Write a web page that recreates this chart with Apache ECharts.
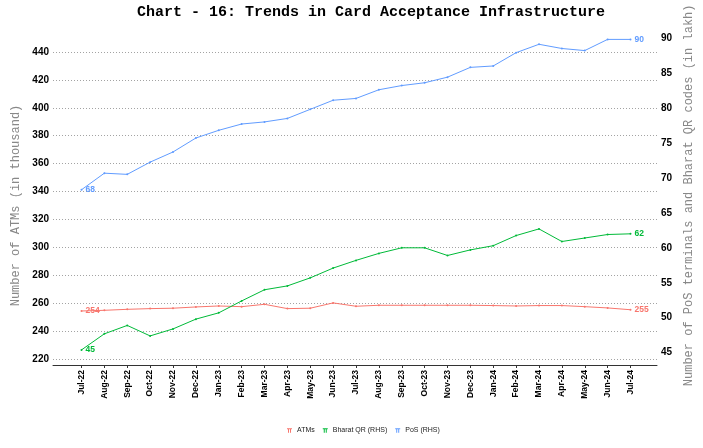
<!DOCTYPE html>
<html>
<head>
<meta charset="utf-8">
<script src="https://cdn.jsdelivr.net/npm/echarts@6/dist/echarts.min.js"></script>
<style>
html,body{margin:0;padding:0;background:#fff;}
#chart{width:703px;height:448px;}
</style>
</head>
<body>
<div id="chart"></div>
<script>
const categories = ['Jul-22','Aug-22','Sep-22','Oct-22','Nov-22','Dec-22','Jan-23','Feb-23','Mar-23','Apr-23','May-23','Jun-23','Jul-23','Aug-23','Sep-23','Oct-23','Nov-23','Dec-23','Jan-24','Feb-24','Mar-24','Apr-24','May-24','Jun-24','Jul-24'];
const atms = [254.4,254.9,255.6,256.1,256.4,257.3,258.0,257.5,259.2,256.1,256.4,260.2,257.8,258.5,258.5,258.5,258.5,258.5,258.3,258.0,258.3,258.3,257.5,256.6,255.3];
const bharatQR = [45.4,47.7,48.9,47.4,48.4,49.8,50.7,52.4,54.0,54.55,55.7,57.1,58.2,59.2,60.0,60.0,58.9,59.7,60.3,61.75,62.7,60.9,61.4,61.9,62.0];
const pos = [68.3,70.67,70.5,72.25,73.7,75.7,76.8,77.7,78.0,78.5,79.8,81.1,81.36,82.6,83.2,83.6,84.4,85.8,86.0,87.9,89.1,88.5,88.2,89.8,89.8];
const leftTicks = {min: 220, max: 440, interval: 20};
const rightTicks = {min: 45, max: 90, interval: 5};

const last = categories.length - 1;
function endLabel(color) {
  return {
    show: true, position: 'right', distance: 3,
    fontSize: 8.5, fontWeight: 'bold', color: color, fontFamily: 'Liberation Sans',
    formatter: p => (p.dataIndex === 0 || p.dataIndex === last) ? String(Math.round(p.value)) : ''
  };
}
const mono = 'Liberation Mono';
const chart = echarts.init(document.getElementById('chart'));
chart.setOption({
  animation: false,
  backgroundColor: '#fff',
  title: {
    text: 'Chart - 16: Trends in Card Acceptance Infrastructure',
    left: 137, top: 5, padding: 0,
    textStyle: {fontFamily: mono, fontSize: 15, fontWeight: 'bold', color: '#000'}
  },
  legend: {
    bottom: 9, left: 282,
    itemWidth: 5, itemHeight: 5, itemGap: 8,
    icon: 'path://M0,0H10V2H0Z M2,2H4V9H2Z M6,2H8V9H6Z',
    textStyle: {fontSize: 7, color: '#222', fontFamily: 'Liberation Sans'},
    data: ['ATMs', 'Bharat QR (RHS)', 'PoS (RHS)']
  },
  grid: [
    {left: 53, right: 46, top: 52, bottom: 89},
    {left: 81.5, right: 72.5, top: 52, bottom: 89},
    {left: 81.5, right: 72.5, top: 38, bottom: 95.3}
  ],
  xAxis: [
    {gridIndex: 0, type: 'value', min: 0, max: 1, offset: 6,
     axisLine: {show: true, onZero: false, lineStyle: {color: '#333', width: 1}},
     axisTick: {show: false}, axisLabel: {show: false}, splitLine: {show: false}},
    {gridIndex: 1, type: 'category', data: categories, boundaryGap: false, offset: 6,
     axisLine: {show: false, onZero: false},
     axisTick: {show: true, length: 3, lineStyle: {color: '#333'}},
     axisLabel: {rotate: 90, margin: 5, fontSize: 8.5, fontWeight: 'bold', color: '#000', fontFamily: 'Liberation Sans', interval: 0},
     splitLine: {show: false}},
    {gridIndex: 2, type: 'category', data: categories, boundaryGap: false, show: false}
  ],
  yAxis: [
    {gridIndex: 0, type: 'value', position: 'left', min: leftTicks.min, max: leftTicks.max, interval: leftTicks.interval,
     name: 'Number of ATMs (in thousand)', nameLocation: 'middle', nameGap: 26, nameRotate: 90,
     nameTextStyle: {fontFamily: mono, fontSize: 12, color: '#888'},
     axisLine: {show: false}, axisTick: {show: false},
     axisLabel: {margin: 4, fontSize: 10, fontWeight: 'bold', color: '#000', fontFamily: 'Liberation Sans'},
     splitLine: {show: true, lineStyle: {color: '#a3a3a3', type: [1, 2], width: 1}}},
    {gridIndex: 1, type: 'value', min: leftTicks.min, max: leftTicks.max, show: false, splitLine: {show: false}},
    {gridIndex: 2, type: 'value', position: 'right', offset: 26.5,
     min: rightTicks.min, max: rightTicks.max, interval: rightTicks.interval,
     name: 'Number of PoS terminals and Bharat QR codes (in lakh)', nameLocation: 'middle', nameGap: 25, nameRotate: 90,
     nameTextStyle: {fontFamily: mono, fontSize: 12, color: '#888'},
     axisLine: {show: false}, axisTick: {show: false},
     axisLabel: {margin: 4, fontSize: 10, fontWeight: 'bold', color: '#000', fontFamily: 'Liberation Sans'},
     splitLine: {show: false}}
  ],
  series: [
    {name: 'ATMs', type: 'line', xAxisIndex: 1, yAxisIndex: 1, data: atms, color: '#F8766D',
     symbol: 'circle', symbolSize: 2, lineStyle: {width: 1}, label: endLabel('#F8766D'), clip: false},
    {name: 'Bharat QR (RHS)', type: 'line', xAxisIndex: 2, yAxisIndex: 2, data: bharatQR, color: '#00BA38',
     symbol: 'circle', symbolSize: 2, lineStyle: {width: 1}, label: endLabel('#00BA38'), clip: false},
    {name: 'PoS (RHS)', type: 'line', xAxisIndex: 2, yAxisIndex: 2, data: pos, color: '#619CFF',
     symbol: 'circle', symbolSize: 2, lineStyle: {width: 1}, label: endLabel('#619CFF'), clip: false}
  ]
});
</script>
</body>
</html>
